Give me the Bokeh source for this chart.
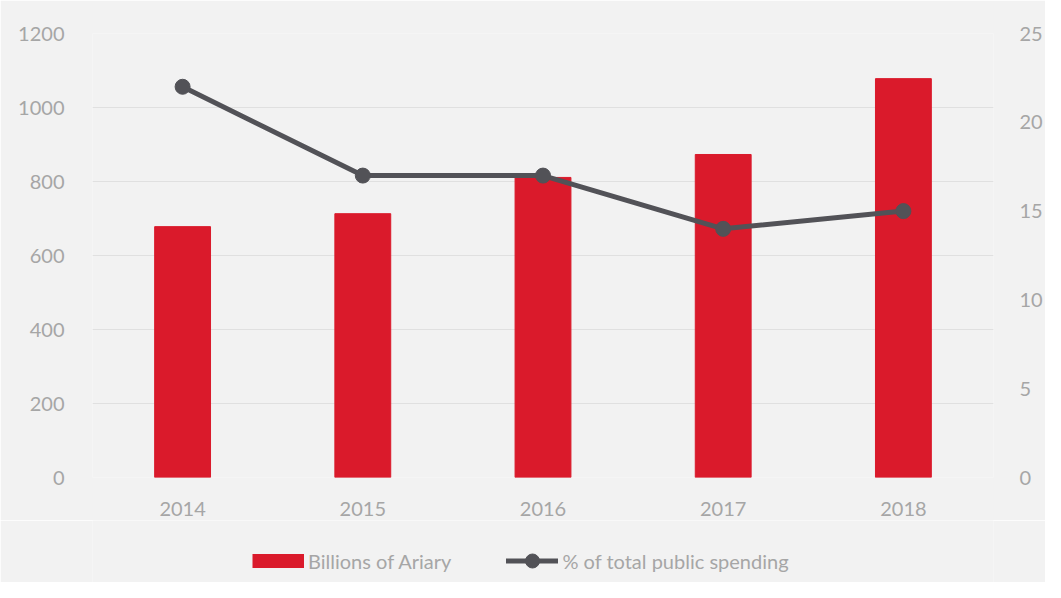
from bokeh.plotting import figure
from bokeh.layouts import column
from bokeh.models import (Range1d, LinearAxis, FixedTicker, Legend, LegendItem, FactorRange)
from bokeh.embed import file_html
from bokeh.resources import INLINE

years = ["2014", "2015", "2016", "2017", "2018"]
billions = [678, 713, 811, 873, 1078]
pct_spending = [22, 17, 17, 14, 15]
left_ticks = [0, 200, 400, 600, 800, 1000, 1200]
right_ticks = [0, 5, 10, 15, 20, 25]
legend_labels = ["Billions of Ariary", "% of total public spending"]

BAR = "#DA1A2B"
LINE = "#525257"
TXT = "#A6A6A6"
BG = "#F2F2F2"
FONT = "Lato"
FS = "20px"

p = figure(width=1045, height=520, x_range=FactorRange(*years, range_padding=0),
           y_range=Range1d(0, 1200), output_backend="svg", toolbar_location=None,
           min_border_left=92, min_border_right=48, min_border_top=33, min_border_bottom=43)
p.background_fill_color = BG
p.border_fill_color = BG
p.outline_line_color = None
p.extra_y_ranges = {"pct": Range1d(0, 25)}

p.vbar(x=years, top=billions, width=0.31, color=BAR)
p.line(x=years, y=pct_spending, y_range_name="pct", line_color=LINE, line_width=5)
p.scatter(x=years, y=pct_spending, y_range_name="pct", size=15, color=LINE)

p.yaxis.ticker = FixedTicker(ticks=left_ticks)
ax_r = LinearAxis(y_range_name="pct", ticker=FixedTicker(ticks=right_ticks))
p.add_layout(ax_r, "right")

for ax in [p.yaxis[0], ax_r, p.xaxis[0]]:
    ax.axis_line_color = None
    ax.major_tick_line_color = None
    ax.minor_tick_line_color = None
    ax.major_label_text_color = TXT
    ax.major_label_text_font = FONT
    ax.major_label_text_font_size = FS
p.yaxis[0].major_label_standoff = 22
ax_r.major_label_standoff = 20
p.xaxis[0].major_label_standoff = 18

p.xgrid.grid_line_color = None
p.ygrid.grid_line_color = "#E0E0E0"
p.ygrid.grid_line_width = 1
p.ygrid.ticker = FixedTicker(ticks=left_ticks)

# legend strip below the chart (frame aligned with the main chart's frame)
lg = figure(width=1045, height=62, x_range=Range1d(0, 1), y_range=Range1d(0, 1),
            output_backend="svg", toolbar_location=None,
            min_border_left=92, min_border_right=48, min_border_top=0, min_border_bottom=0)
lg.axis.visible = False
lg.grid.visible = False
lg.background_fill_color = BG
lg.border_fill_color = BG
lg.outline_line_color = None
# proxy renderers placed outside the visible range; only their legend swatches show
r_bar = lg.line(x=[5, 6], y=[5, 5], line_color=BAR, line_width=14, line_cap="butt")
r_line = lg.line(x=[5, 6], y=[5, 5], line_color=LINE, line_width=5, line_cap="round")
r_pt = lg.scatter(x=[5], y=[5], size=15, color=LINE)

legend = Legend(items=[LegendItem(label=legend_labels[0], renderers=[r_bar]),
                       LegendItem(label=legend_labels[1], renderers=[r_line, r_pt])],
                orientation="horizontal", location=(160, 4),
                glyph_width=52, glyph_height=35, label_standoff=4, spacing=55,
                padding=0, margin=0, border_line_color=None, background_fill_alpha=0,
                label_text_color=TXT, label_text_font=FONT, label_text_font_size=FS)
lg.add_layout(legend, "center")

layout = column(p, lg, spacing=0)
open("out.html", "w").write(file_html(layout, INLINE))
